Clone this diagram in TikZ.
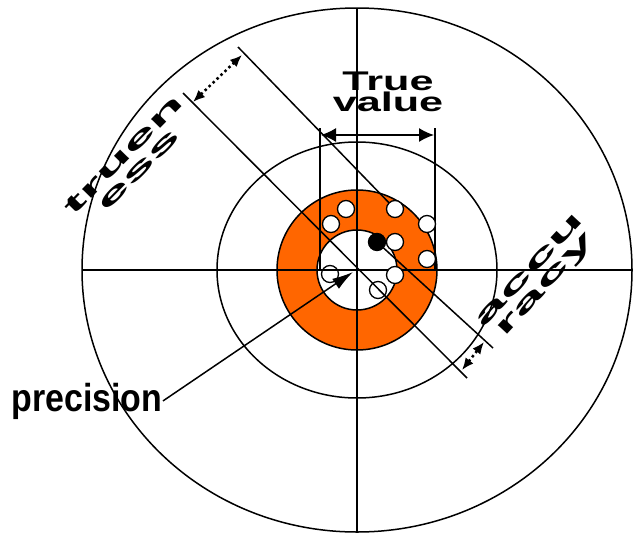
\documentclass[tikz,border=0pt]{standalone}
\usepackage{fontspec}
\setmainfont{Liberation Sans}
\usetikzlibrary{arrows.meta}
\definecolor{targetorange}{RGB}{255,102,0}
\begin{document}
\begin{tikzpicture}[x=1pt, y=-1pt, line width=1.5pt, >={Latex[length=15pt,width=14pt]},
    shot/.style={circle, draw, fill=white, line width=1.3pt, minimum size=17pt, inner sep=0pt},
    openshot/.style={shot, fill=none},
    meanshot/.style={shot, fill=black},
    gaparrow/.style={<->, >={Latex[length=12pt,width=10pt]}, line width=2.5pt, dash pattern=on 2.5pt off 3pt},
    bigword/.style={font=\fontsize{24}{21}\selectfont\bfseries, align=center, inner sep=0pt}]
    % 0. frame
    \useasboundingbox (0,0) rectangle (637,536);

    % 1. target rings
    \coordinate (tv) at (357,270);
    \draw (tv) ellipse [x radius=275, y radius=262];
    \draw (tv) ellipse [x radius=140, y radius=128];
    \fill[targetorange, even odd rule] (tv) circle [radius=80] (tv) circle [radius=40];
    \draw (tv) circle [radius=80] (tv) circle [radius=40];

    % 2. cross hair
    \coordinate (west) at (82,270);  \coordinate (east) at (632,270);
    \coordinate (north) at (357,8);  \coordinate (south) at (357,532);
    \draw (west) -- (east);
    \draw (north) -- (south);

    % 3. shots seen through the lines
    \node[openshot] (s8) at (330,274) {};
    \node[openshot] (s9) at (378,290) {};

    % 4. bracket lines
    \coordinate (mean) at (377,242);
    \coordinate (t1a) at (238,47);   \coordinate (t1b) at (395,209);
    \coordinate (t2a) at (183,93);   \coordinate (t2b) at (467,378);
    \coordinate (a4b) at (493,348);
    \draw (t1a) -- (t1b);
    \draw (t2a) -- (t2b);
    \draw (mean) -- (a4b);
    % true value span
    \coordinate (vl1) at (320,128);  \coordinate (vl2) at (320,270);
    \coordinate (vr1) at (435,128);  \coordinate (vr2) at (435,270);
    \coordinate (ta1) at (321,135);  \coordinate (ta2) at (434,135);
    \draw (vl1) -- (vl2);
    \draw (vr1) -- (vr2);
    \draw[<->] (ta1) -- (ta2);
    % dotted gaps
    \coordinate (g1a) at (193,102);  \coordinate (g1b) at (242,55);
    \coordinate (g2a) at (462,370);  \coordinate (g2b) at (484,342);
    \draw[gaparrow] (g1a) -- (g1b);
    \draw[gaparrow] (g2a) -- (g2b);

    % 5. precision
    \node[anchor=base east, inner sep=0pt, font=\fontsize{39}{39}\selectfont\bfseries, xscale=0.87] (prec) at (163,411) {precision};
    \coordinate (ptip) at (353,272);
    \draw[-{Latex[length=21pt,width=12pt]}] (prec.east) -- (ptip);

    % 6. shots
    \node[shot] (s1) at (346,209) {};
    \node[shot] (s2) at (331,224) {};
    \node[shot] (s3) at (395,209) {};
    \node[shot] (s4) at (427,224) {};
    \node[shot] (s5) at (395,242) {};
    \node[shot] (s6) at (427,259) {};
    \node[shot] (s7) at (395,275) {};
    \node[meanshot] (m) at (mean) {};

    % 7. labels
    \node[font=\fontsize{27}{19}\selectfont\bfseries, xscale=1.6, align=center] (truevalue) at (388,92) {True\\value};
    \node[bigword, rotate=45.5, xscale=2.65] (truelab) at (131,162) {truen\\ess};
    \node[bigword, rotate=47, xscale=2.7] (acclab) at (539,279) {accu\\racy};
\end{tikzpicture}
\end{document}
